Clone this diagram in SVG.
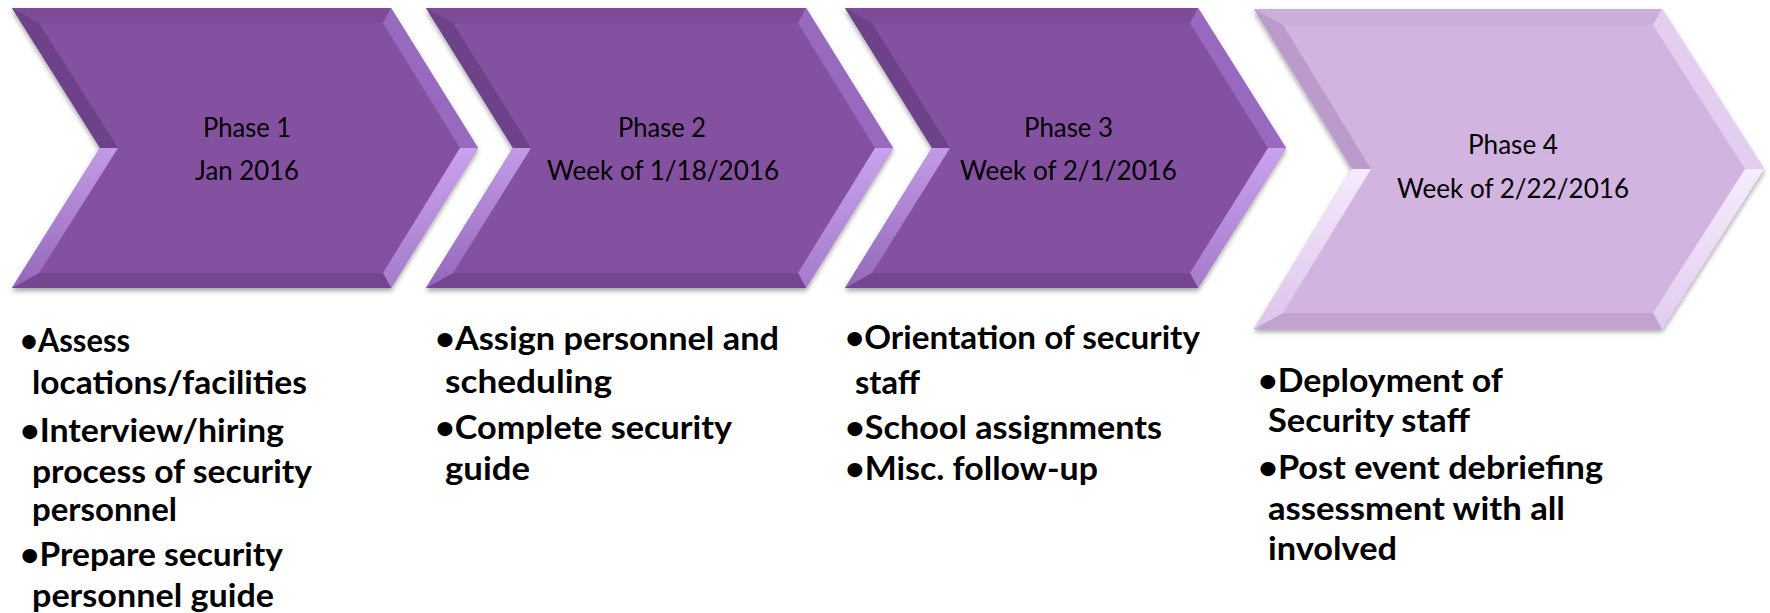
<svg xmlns="http://www.w3.org/2000/svg" width="1770" height="613" viewBox="0 0 1770 613">
<defs>
<filter id="sh" x="-5%" y="-5%" width="110%" height="115%">
<feDropShadow dx="0" dy="3" stdDeviation="2.5" flood-color="#000" flood-opacity="0.35"/>
</filter>
<linearGradient id="gRL" x1="0" y1="0" x2="0" y2="1"><stop offset="0" stop-color="#C9A2EE"/><stop offset="1" stop-color="#A57BCB"/></linearGradient>
<linearGradient id="gLL" x1="0" y1="0" x2="0" y2="1"><stop offset="0" stop-color="#C29BE6"/><stop offset="1" stop-color="#9467BA"/></linearGradient>
<linearGradient id="gRL4" x1="0" y1="0" x2="0" y2="1"><stop offset="0" stop-color="#F6ECFD"/><stop offset="1" stop-color="#E2CCEF"/></linearGradient>
<linearGradient id="gLL4" x1="0" y1="0" x2="0" y2="1"><stop offset="0" stop-color="#F5EAFC"/><stop offset="1" stop-color="#DCC4EA"/></linearGradient>
</defs>
<style>
.fd{fill:#8451A0}.td{fill:#7E4C99}.rud{fill:#976AC0}.rld{fill:url(#gRL)}.bd{fill:#76458F}.lld{fill:url(#gLL)}.lud{fill:#6E4288}
.fl{fill:#D1B4E0}.tl{fill:#CBAEDA}.rul{fill:#E3CEF0}.rll{fill:url(#gRL4)}.bl{fill:#C1A2D1}.lll{fill:url(#gLL4)}.lul{fill:#BB9BCC}
.ph{font-family:Lato,"Open Sans","Liberation Sans",sans-serif;font-size:26px;fill:#000}
.bt{font-family:Lato,"Open Sans","Liberation Sans",sans-serif;font-size:32px;font-weight:bold;fill:#000}
</style>
<g id="connectors"></g>
<g id="phase1">
<g filter="url(#sh)">
<polygon class="fd" points="12,8 391,8 478,148 391,288 12,288 100,148"/>
<polygon class="td" points="12,8 391,8 383,23 39,23"/>
<polygon class="rud" points="391,8 478,148 460,148 383,23"/>
<polygon class="rld" points="478,148 391,288 383,273 460,148"/>
<polygon class="bd" points="391,288 12,288 39,273 383,273"/>
<polygon class="lld" points="12,288 100,148 118,148 39,273"/>
<polygon class="lud" points="100,148 12,8 39,23 118,148"/>
</g>
<text class="ph" x="203" y="137" textLength="88" lengthAdjust="spacingAndGlyphs">Phase 1</text>
<text class="ph" x="195" y="180" textLength="104" lengthAdjust="spacingAndGlyphs">Jan 2016</text>
</g>
<g id="phase2">
<g filter="url(#sh)">
<polygon class="fd" points="426,8 806,8 893,148 806,288 426,288 513,148"/>
<polygon class="td" points="426,8 806,8 798,23 453,23"/>
<polygon class="rud" points="806,8 893,148 875,148 798,23"/>
<polygon class="rld" points="893,148 806,288 798,273 875,148"/>
<polygon class="bd" points="806,288 426,288 453,273 798,273"/>
<polygon class="lld" points="426,288 513,148 531,148 453,273"/>
<polygon class="lud" points="513,148 426,8 453,23 531,148"/>
</g>
<text class="ph" x="618" y="137" textLength="88" lengthAdjust="spacingAndGlyphs">Phase 2</text>
<text class="ph" x="547" y="180" textLength="232" lengthAdjust="spacingAndGlyphs">Week of 1/18/2016</text>
</g>
<g id="phase3">
<g filter="url(#sh)">
<polygon class="fd" points="845,8 1198,8 1286,148 1198,288 845,288 932,148"/>
<polygon class="td" points="845,8 1198,8 1190,23 872,23"/>
<polygon class="rud" points="1198,8 1286,148 1268,148 1190,23"/>
<polygon class="rld" points="1286,148 1198,288 1190,273 1268,148"/>
<polygon class="bd" points="1198,288 845,288 872,273 1190,273"/>
<polygon class="lld" points="845,288 932,148 950,148 872,273"/>
<polygon class="lud" points="932,148 845,8 872,23 950,148"/>
</g>
<text class="ph" x="1024" y="137" textLength="89" lengthAdjust="spacingAndGlyphs">Phase 3</text>
<text class="ph" x="960" y="180" textLength="217" lengthAdjust="spacingAndGlyphs">Week of 2/1/2016</text>
</g>
<g id="phase4">
<g filter="url(#sh)">
<polygon class="fl" points="1254,9 1662,9 1764,169 1662,329 1254,329 1352,169"/>
<polygon class="tl" points="1254,9 1662,9 1653,25 1283,25"/>
<polygon class="rul" points="1662,9 1764,169 1745,169 1653,25"/>
<polygon class="rll" points="1764,169 1662,329 1653,313 1745,169"/>
<polygon class="bl" points="1662,329 1254,329 1283,313 1653,313"/>
<polygon class="lll" points="1254,329 1352,169 1371,169 1283,313"/>
<polygon class="lul" points="1352,169 1254,9 1283,25 1371,169"/>
</g>
<text class="ph" x="1468" y="154" textLength="90" lengthAdjust="spacingAndGlyphs">Phase 4</text>
<text class="ph" x="1397" y="198" textLength="232" lengthAdjust="spacingAndGlyphs">Week of 2/22/2016</text>
</g>
<g id="tasks1">
<text class="bt" x="20" y="352" textLength="110" lengthAdjust="spacingAndGlyphs">•Assess</text>
<text class="bt" x="32" y="394" textLength="275" lengthAdjust="spacingAndGlyphs">locations/facilities</text>
<text class="bt" x="20" y="442" textLength="264" lengthAdjust="spacingAndGlyphs">•Interview/hiring</text>
<text class="bt" x="32" y="483" textLength="280" lengthAdjust="spacingAndGlyphs">process of security</text>
<text class="bt" x="32" y="521" textLength="145" lengthAdjust="spacingAndGlyphs">personnel</text>
<text class="bt" x="20" y="566" textLength="263" lengthAdjust="spacingAndGlyphs">•Prepare security</text>
<text class="bt" x="32" y="607" textLength="242" lengthAdjust="spacingAndGlyphs">personnel guide</text>
</g>
<g id="tasks2">
<text class="bt" x="435" y="350" textLength="344" lengthAdjust="spacingAndGlyphs">•Assign personnel and</text>
<text class="bt" x="445" y="393" textLength="167" lengthAdjust="spacingAndGlyphs">scheduling</text>
<text class="bt" x="435" y="439" textLength="297" lengthAdjust="spacingAndGlyphs">•Complete security</text>
<text class="bt" x="445" y="480" textLength="85" lengthAdjust="spacingAndGlyphs">guide</text>
</g>
<g id="tasks3">
<text class="bt" x="845" y="349" textLength="355" lengthAdjust="spacingAndGlyphs">•Orientation of security</text>
<text class="bt" x="855" y="394" textLength="65" lengthAdjust="spacingAndGlyphs">staff</text>
<text class="bt" x="845" y="439" textLength="317" lengthAdjust="spacingAndGlyphs">•School assignments</text>
<text class="bt" x="845" y="480" textLength="253" lengthAdjust="spacingAndGlyphs">•Misc. follow-up</text>
</g>
<g id="tasks4">
<text class="bt" x="1258" y="392" textLength="245" lengthAdjust="spacingAndGlyphs">•Deployment of</text>
<text class="bt" x="1268" y="432" textLength="202" lengthAdjust="spacingAndGlyphs">Security staff</text>
<text class="bt" x="1258" y="479" textLength="345" lengthAdjust="spacingAndGlyphs">•Post event debriefing</text>
<text class="bt" x="1268" y="520" textLength="297" lengthAdjust="spacingAndGlyphs">assessment with all</text>
<text class="bt" x="1268" y="560" textLength="129" lengthAdjust="spacingAndGlyphs">involved</text>
</g>
</svg>
